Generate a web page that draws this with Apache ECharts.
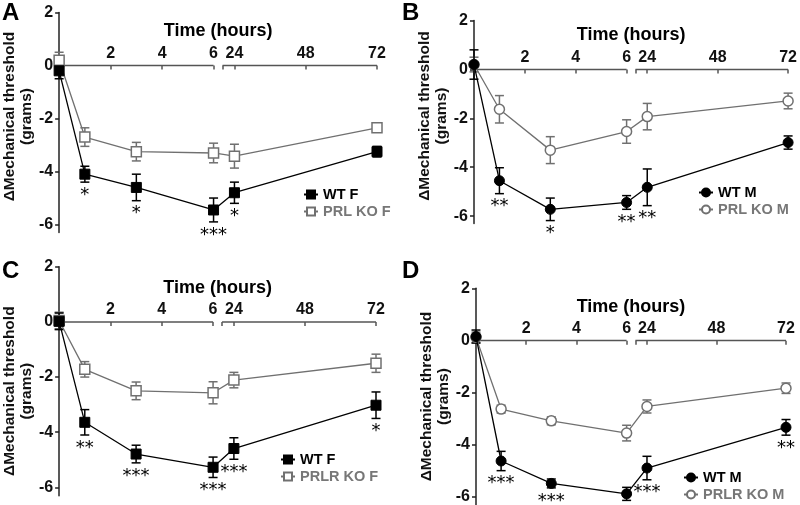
<!DOCTYPE html>
<html><head><meta charset="utf-8">
<script src="https://cdn.jsdelivr.net/npm/echarts@6/dist/echarts.min.js"></script>
<style>html,body{margin:0;padding:0;background:#fff}#c{width:800px;height:505px}</style>
</head><body><div id="c"></div><script>
// ---------- data ----------
const hours = [0, 1, 3, 6, 24, 72];
const xTickHours = [2, 4, 6, 24, 48, 72];
const xSegmentStartHours = [20];
const axisSegments = [[0, 6], [20, 72]];
const yTickValues = [-6, -4, -2, 0, 2];

const panelLetters = ['A', 'B', 'C', 'D'];
const wtNames = ['WT F', 'WT M', 'WT F', 'WT M'];
const koNames = ['PRL KO F', 'PRL KO M', 'PRLR KO F', 'PRLR KO M'];

// Panel A
const aWT = [-0.2, -4.1, -4.6, -5.45, -4.8, -3.25];
const aWTErr = [0.3, 0.3, 0.5, 0.45, 0.4, 0.2];
const aKO = [0.2, -2.7, -3.25, -3.3, -3.42, -2.35];
const aKOErr = [0.3, 0.35, 0.35, 0.37, 0.45, 0.15];
const aStars = ['', '*', '*', '***', '*', ''];
// Panel B
const bWT = [0.2, -4.55, -5.72, -5.44, -4.82, -2.99];
const bWTErr = [0.6, 0.53, 0.46, 0.28, 0.75, 0.27];
const bKO = [0.2, -1.63, -3.3, -2.54, -1.93, -1.29];
const bKOErr = [0.3, 0.56, 0.55, 0.48, 0.54, 0.32];
const bStars = ['', '**', '*', '**', '**', ''];
// Panel C
const cWT = [0.02, -3.64, -4.79, -5.27, -4.59, -3.02];
const cWTErr = [0.3, 0.46, 0.32, 0.37, 0.39, 0.48];
const cKO = [0.05, -1.72, -2.5, -2.57, -2.11, -1.5];
const cKOErr = [0.3, 0.28, 0.32, 0.4, 0.28, 0.33];
const cStars = ['', '**', '***', '***', '***', '*'];
// Panel D
const dWT = [0.15, -4.62, -5.48, -5.88, -4.89, -3.33];
const dWTErr = [0.25, 0.37, 0.17, 0.25, 0.45, 0.3];
const dKO = [0.12, -2.63, -3.08, -3.55, -2.53, -1.83];
const dKOErr = [0.2, 0.15, 0.15, 0.3, 0.25, 0.2];
const dStars = ['', '***', '***', '***', '***', '**'];

// ---------- broken time axis scale ----------
// segment 1: 0-6 h occupies 6 axis units, segment 2: 20-72 h occupies 6 axis units after a gap
const SEG2_START = 6.35;
function axisPos(h) {
  return h <= axisSegments[0][1] ? h
    : SEG2_START + (h - axisSegments[1][0]) * (6 / (axisSegments[1][1] - axisSegments[1][0]));
}
const X_MAX = axisPos(72);
const Y_MIN = -6.3, Y_MAX = 2;

const FONT = "'Liberation Sans', Arial, sans-serif";
const WT_COLOR = '#000000';
const KO_COLOR = '#707070';

const panelData = [
  {wt: aWT, wtErr: aWTErr, ko: aKO, koErr: aKOErr, stars: aStars, symbol: 'rect'},
  {wt: bWT, wtErr: bWTErr, ko: bKO, koErr: bKOErr, stars: bStars, symbol: 'circle'},
  {wt: cWT, wtErr: cWTErr, ko: cKO, koErr: cKOErr, stars: cStars, symbol: 'rect'},
  {wt: dWT, wtErr: dWTErr, ko: dKO, koErr: dKOErr, stars: dStars, symbol: 'circle'}
];
// layout (pixels)
const grids = [
  {left: 58, top: 12.5, width: 319, height: 220},
  {left: 474, top: 20.5, width: 316, height: 203},
  {left: 57, top: 266.7, width: 319, height: 229},
  {left: 476, top: 288.3, width: 310, height: 218}
];
const yNameGap = [13, 22, 12, 22];
const yNamePadding = [[0, 0, 0, 12], [0, 0, 0, 12], [0, 20, 0, 0], [0, 0, 0, 0]];
const legendPos = [
  {left: 303, top: 187},
  {left: 698, top: 185},
  {left: 280, top: 452},
  {left: 683, top: 470}
];
const letterPos = [[2, 1], [402, 1], [2, 259], [402, 259]];

function errorBarSeries(gi, vals, errs, color) {
  return {
    type: 'custom', xAxisIndex: gi, yAxisIndex: gi, z: 1, silent: true,
    data: hours.map((h, i) => [axisPos(h), vals[i] - errs[i], vals[i] + errs[i]]),
    encode: {x: 0, y: [1, 2]},
    renderItem(params, api) {
      const x = api.value(0);
      const p1 = api.coord([x, api.value(2)]);
      const p2 = api.coord([x, api.value(1)]);
      const w = 4.5;
      const st = {stroke: color, lineWidth: 1.5};
      return {type: 'group', children: [
        {type: 'line', shape: {x1: p1[0], y1: p1[1], x2: p2[0], y2: p2[1]}, style: st},
        {type: 'line', shape: {x1: p1[0] - w, y1: p1[1], x2: p1[0] + w, y2: p1[1]}, style: st},
        {type: 'line', shape: {x1: p2[0] - w, y1: p2[1], x2: p2[0] + w, y2: p2[1]}, style: st}
      ]};
    }
  };
}

const option = {
  animation: false,
  backgroundColor: '#ffffff',
  grid: grids.map(g => Object.assign({containLabel: false}, g)),
  xAxis: grids.map((g, i) => ({
    type: 'value', gridIndex: i, min: 0, max: X_MAX, position: 'top',
    // place the time axis at y = 0 (inside the plot)
    offset: -g.height * Y_MAX / (Y_MAX - Y_MIN),
    axisLine: {show: false, onZero: false},
    axisTick: {show: true, inside: true, length: 4,
      customValues: xTickHours.concat(xSegmentStartHours).map(axisPos),
      lineStyle: {color: '#555', width: 1.5}},
    axisLabel: {show: true, customValues: xTickHours.map(axisPos), margin: 4,
      fontSize: 16, fontWeight: 'bold', color: '#111', fontFamily: FONT,
      formatter: v => { const h = xTickHours.find(t => Math.abs(axisPos(t) - v) < 1e-6); return h === undefined ? '' : String(h); }},
    splitLine: {show: false},
    name: 'Time (hours)', nameLocation: 'middle', nameGap: 25,
    nameTextStyle: {fontSize: 18, fontWeight: 'bold', color: '#000', fontFamily: FONT}
  })),
  yAxis: grids.map((g, i) => ({
    type: 'value', gridIndex: i, min: Y_MIN, max: Y_MAX, position: 'left',
    axisLine: {show: true, onZero: false, lineStyle: {color: '#222', width: 1.5}},
    axisTick: {show: true, length: 4, customValues: yTickValues, lineStyle: {color: '#222', width: 1.5}},
    axisLabel: {customValues: yTickValues, margin: 6, fontSize: 16, fontWeight: 'bold', color: '#111', fontFamily: FONT},
    splitLine: {show: false},
    name: 'ΔMechanical threshold\n(grams)', nameLocation: 'middle', nameGap: yNameGap[i], nameRotate: 90,
    nameTextStyle: {fontSize: 15.5, fontWeight: 'bold', lineHeight: 17, color: '#111', fontFamily: FONT,
      padding: yNamePadding[i]}
  })),
  legend: grids.map((g, i) => ({
    orient: 'vertical', left: legendPos[i].left, top: legendPos[i].top,
    itemWidth: 14, itemHeight: 10, itemGap: 2, padding: 0,
    selectedMode: false,
    textStyle: {fontSize: 14.5, fontWeight: 'bold', fontFamily: FONT},
    data: [
      {name: wtNames[i], textStyle: {color: '#000'}},
      {name: koNames[i], textStyle: {color: '#777'}}
    ]
  })),
  graphic: panelLetters.map((t, i) => ({
    type: 'text', left: letterPos[i][0], top: letterPos[i][1],
    style: {text: t, font: 'bold 24px ' + FONT, fill: '#000'}
  })),
  series: []
};

panelData.forEach((p, i) => {
  // broken time-axis line
  option.series.push({
    type: 'custom', xAxisIndex: i, yAxisIndex: i, silent: true, z: 0,
    data: axisSegments.map(s => [axisPos(s[0]), axisPos(s[1])]),
    renderItem(params, api) {
      const a = api.coord([api.value(0), 0]);
      const b = api.coord([api.value(1), 0]);
      return {type: 'line', shape: {x1: a[0], y1: a[1], x2: b[0], y2: b[1]},
        style: {stroke: '#555', lineWidth: 1.5}};
    }
  });
  option.series.push(errorBarSeries(i, p.ko, p.koErr, KO_COLOR));
  option.series.push(errorBarSeries(i, p.wt, p.wtErr, WT_COLOR));
  option.series.push({
    name: koNames[i], type: 'line', xAxisIndex: i, yAxisIndex: i, z: 3, clip: false,
    data: hours.map((h, k) => [axisPos(h), p.ko[k]]),
    symbol: p.symbol, symbolSize: 10, showAllSymbol: true,
    lineStyle: {color: KO_COLOR, width: 1.3},
    itemStyle: {color: '#ffffff', borderColor: KO_COLOR, borderWidth: 1.5}
  });
  option.series.push({
    name: wtNames[i], type: 'line', xAxisIndex: i, yAxisIndex: i, z: 4, clip: false,
    data: hours.map((h, k) => [axisPos(h), p.wt[k]]),
    symbol: p.symbol, symbolSize: 10, showAllSymbol: true,
    lineStyle: {color: WT_COLOR, width: 1.3},
    itemStyle: {color: WT_COLOR, borderColor: WT_COLOR, borderWidth: 1}
  });
  // significance stars under WT points
  option.series.push({
    type: 'custom', xAxisIndex: i, yAxisIndex: i, silent: true, z: 5,
    data: hours.map((h, k) => [axisPos(h), p.wt[k] - p.wtErr[k]]),
    renderItem(params, api) {
      const s = p.stars[params.dataIndex];
      if (!s) return null;
      const c = api.coord([api.value(0), api.value(1)]);
      return {type: 'text', x: c[0], y: c[1] + 13,
        style: {text: s, font: '18px DejaVu Sans', fill: '#000', align: 'center', verticalAlign: 'middle'}};
    }
  });
});

const chart = echarts.init(document.getElementById('c'), null, {renderer: 'canvas'});
chart.setOption(option);
</script></body></html>
